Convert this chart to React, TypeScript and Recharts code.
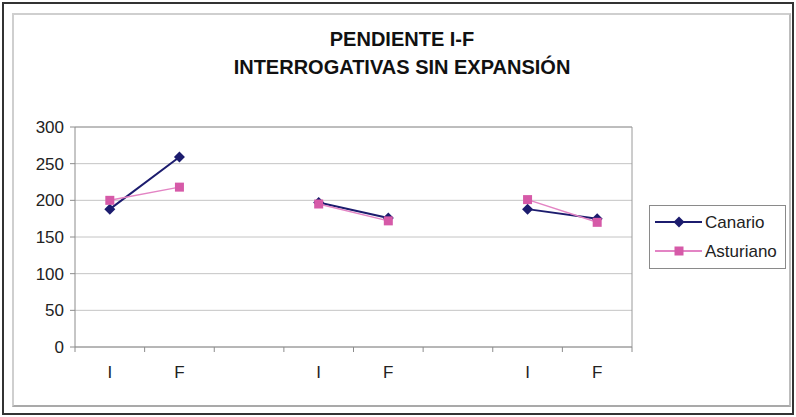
import React from "react";
import {
  LineChart,
  Line,
  XAxis,
  YAxis,
  CartesianGrid,
  ReferenceLine,
  Legend,
} from "recharts";

// tick labels along the x axis; empty slots separate the three pairs
const categories = ["I", "F", "", "I", "F", "", "I", "F"];
const canario = [188, 259, null, 197, 176, null, 188, 175];
const asturiano = [200, 218, null, 195, 172, null, 201, 170];
const yTicks = [0, 50, 100, 150, 200, 250, 300];

const data = categories.map((label, i) => ({
  pos: i + 0.5,
  label,
  canario: canario[i],
  asturiano: asturiano[i],
}));

// boundary ticks at integers, labels at band centres
const xTicks = Array.from({ length: categories.length * 2 + 1 }, (_, i) => i / 2);

const FONT = "'Liberation Sans', Arial, Helvetica, sans-serif";
const NAVY = "#1c1c6e";
const PINK = "#d65aa8";
const PINK_LINE = "#e384c4";

const Diamond = ({ cx, cy, fill }: any) => {
  if (cx == null || cy == null) return null;
  const r = 5.5;
  return (
    <polygon
      points={`${cx},${cy - r} ${cx + r},${cy} ${cx},${cy + r} ${cx - r},${cy}`}
      fill={fill}
    />
  );
};

const Square = ({ cx, cy, fill }: any) => {
  if (cx == null || cy == null) return null;
  const h = 4.5;
  return <rect x={cx - h} y={cy - h} width={h * 2} height={h * 2} fill={fill} />;
};

const XTick = ({ x, y, payload }: any) => {
  const v = payload.value as number;
  if (Number.isInteger(v)) {
    return <line x1={x} x2={x} y1={y} y2={y + 5} stroke="#8c8c8c" />;
  }
  return (
    <text
      x={x}
      y={y + 31}
      textAnchor="middle"
      fontSize={17}
      fontFamily={FONT}
      fill="#222"
    >
      {categories[Math.floor(v)]}
    </text>
  );
};

const series = [
  { name: "Canario", line: NAVY, marker: NAVY, Shape: Diamond },
  { name: "Asturiano", line: PINK_LINE, marker: PINK, Shape: Square },
];

const LegendBox = () => (
  <div
    style={{
      width: 137,
      height: 64,
      border: "1px solid #8a8a8a",
      boxSizing: "border-box",
      background: "#fff",
    }}
  >
    <svg width={135} height={62} style={{ display: "block" }}>
      {series.map((s, i) => {
        const y = 16 + i * 29;
        return (
          <g key={s.name}>
            <line x1={5} x2={52} y1={y} y2={y} stroke={s.line} strokeWidth={2} />
            <s.Shape cx={29} cy={y} fill={s.marker} />
            <text
              x={55}
              y={y + 6}
              fontSize={17}
              fontFamily={FONT}
              fill="#222"
            >
              {s.name}
            </text>
          </g>
        );
      })}
    </svg>
  </div>
);

export default function App() {
  return (
    <div
      style={{
        position: "relative",
        width: 796,
        height: 417,
        background: "#fff",
        fontFamily: FONT,
      }}
    >
      <style>{`body{margin:0}`}</style>
      {/* outer dark frame and inner grey chart border */}
      <div
        style={{
          position: "absolute",
          left: 2,
          top: 2,
          width: 792,
          height: 413,
          border: "2px solid #333",
          boxSizing: "border-box",
        }}
      />
      <div
        style={{
          position: "absolute",
          left: 12,
          top: 13,
          width: 779,
          height: 394,
          border: "2px solid #cfcfcf",
          borderBottomColor: "#a9a9a9",
          borderRightColor: "#bdbdbd",
          boxSizing: "border-box",
        }}
      />
      <div
        style={{
          position: "absolute",
          left: 200,
          top: 25,
          width: 404,
          textAlign: "center",
          fontSize: 20,
          lineHeight: "28px",
          fontWeight: "bold",
          color: "#111",
        }}
      >
        <div>PENDIENTE I-F</div>
        <div>INTERROGATIVAS SIN EXPANSIÓN</div>
      </div>
      <div style={{ position: "absolute", left: 0, top: 0 }}>
        <LineChart
          width={796}
          height={417}
          data={data}
          margin={{ top: 127, right: 164, bottom: 40, left: 15 }}
        >
          <CartesianGrid vertical={false} stroke="#c4c4c4" />
          <XAxis
            dataKey="pos"
            type="number"
            domain={[0, categories.length]}
            ticks={xTicks}
            interval={0}
            height={30}
            tickLine={false}
            tickSize={0}
            tickMargin={0}
            tick={<XTick />}
            stroke="#8c8c8c"
          />
          <YAxis
            domain={[0, 300]}
            ticks={yTicks}
            interval={0}
            width={60}
            tickSize={5}
            tickMargin={6}
            stroke="#8c8c8c"
            tick={{ fontSize: 17, fill: "#222", fontFamily: FONT }}
          />
          <ReferenceLine x={categories.length} stroke="#9a9a9a" />
          <ReferenceLine y={300} stroke="#9a9a9a" />
          <Line
            dataKey="canario"
            name="Canario"
            stroke={NAVY}
            strokeWidth={2}
            dot={<Diamond fill={NAVY} />}
            activeDot={false}
            connectNulls={false}
            isAnimationActive={false}
          />
          <Line
            dataKey="asturiano"
            name="Asturiano"
            stroke={PINK_LINE}
            strokeWidth={1.5}
            dot={<Square fill={PINK} />}
            activeDot={false}
            connectNulls={false}
            isAnimationActive={false}
          />
          <Legend
            layout="vertical"
            align="center"
            verticalAlign="middle"
            content={<LegendBox />}
            wrapperStyle={{ left: 649, top: 205, width: 137 }}
          />
        </LineChart>
      </div>
    </div>
  );
}
